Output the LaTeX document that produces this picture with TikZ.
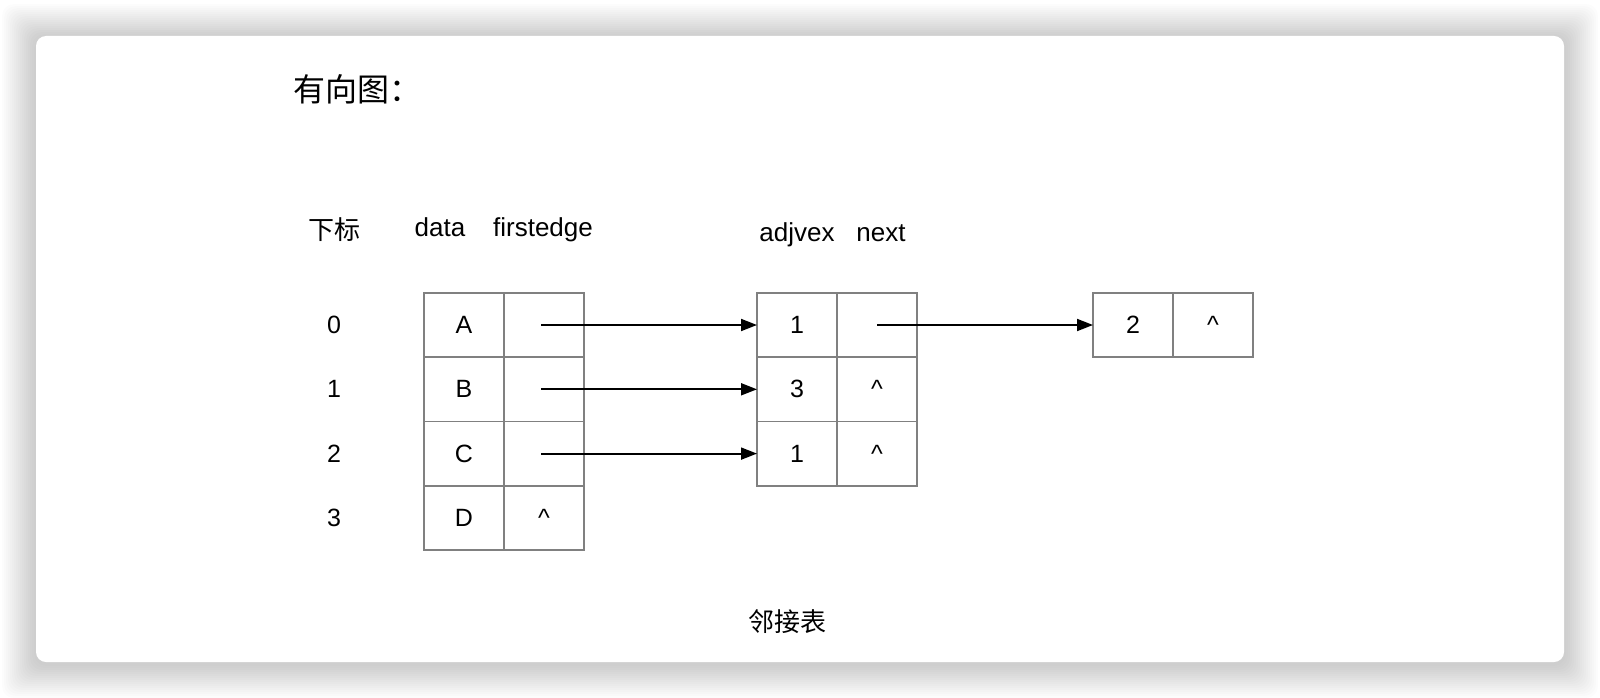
\documentclass[tikz,border=0pt]{standalone}
\usepackage{fontspec}
\setmainfont{Liberation Sans}
\newfontfamily\cjk{Noto Sans CJK SC}
\usetikzlibrary{positioning, arrows.meta}

\begin{document}
\begin{tikzpicture}[x=1pt,y=-1pt]
\tikzstyle{every node}=[font=\fontsize{25}{29}\selectfont]
\tikzstyle{cell}=[draw=gray, line width=1.6pt, minimum width=80pt, minimum height=64.3pt, inner sep=0pt, outer sep=0pt]
\tikzstyle{head}=[anchor=base, font=\fontsize{26}{30}\selectfont]
\tikzstyle{zh}=[font=\cjk\fontsize{26}{30}\selectfont]
\tikzstyle{every edge}=[draw,-{Triangle[length=16pt,width=12pt]},line width=1.8pt]

\useasboundingbox (0,0) rectangle (1600,698);
% card and its shadow
\foreach \d in {2,4,...,34}
  \fill[black, opacity=0.011, rounded corners=12pt] (36-\d,38-\d) rectangle (1564+\d,664+\d);
\fill[white, rounded corners=10pt] (36,36) rectangle (1564,662);

\node[font=\cjk\fontsize{32}{36}\selectfont, anchor=west] (title) at (290,89) {有向图：};

% headers
\node[zh] (hidx) at (334,230) {下标};
\node[head] (hdata) at (440,236) {data};
\node[head] (hfirst) at (543,236) {firstedge};
\node[head] (hadj) at (797,241) {adjvex};
\node[head] (hnext) at (881,241) {next};

% vertex table
\node[cell] (A) at (464,325) {A};
\node[cell, right=0pt of A] (Af) {};
\node[cell, below=0pt of A] (B) {B};
\node[cell, right=0pt of B] (Bf) {};
\node[cell, below=0pt of B] (C) {C};
\node[cell, right=0pt of C] (Cf) {};
\node[cell, below=0pt of C] (D) {D};
\node[cell, right=0pt of D] (Df) {\textasciicircum};

\foreach \i in {0,...,3}
  \node (i\i) at (334,325+64.3*\i) {\i};

% edge nodes
\node[cell] (a0) at (797,325) {1};
\node[cell, right=0pt of a0] (n0) {};
\node[cell, below=0pt of a0] (a1) {3};
\node[cell, right=0pt of a1] (n1) {\textasciicircum};
\node[cell, below=0pt of a1] (a2) {1};
\node[cell, right=0pt of a2] (n2) {\textasciicircum};

\node[cell] (b0) at (1133,325) {2};
\node[cell, right=0pt of b0] (m0) {\textasciicircum};

\draw (Af.center) ++(-3,0) edge (a0.west);
\draw (Bf.center) ++(-3,0) edge (a1.west);
\draw (Cf.center) ++(-3,0) edge (a2.west);
\draw (n0.center) edge (b0.west);

\node[zh] (cap) at (787,622) {邻接表};
\end{tikzpicture}
\end{document}
